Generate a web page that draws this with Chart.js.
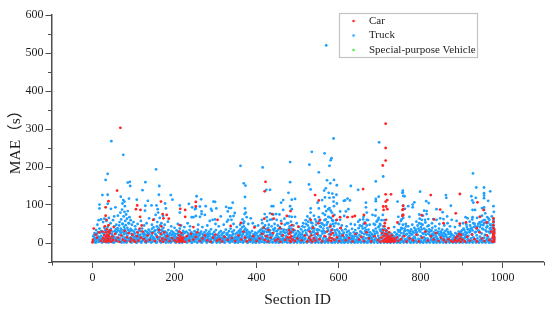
<!DOCTYPE html>
<html><head><meta charset="utf-8">
<style>html,body{margin:0;padding:0;background:#fff}#w{width:550px;height:312px;position:relative}canvas{display:block}</style>
<script src="https://cdn.jsdelivr.net/npm/chart.js@4"></script></head>
<body><div id="w"><canvas id="c" width="550" height="312"></canvas></div>
<script>
const seriesNames = ['Car','Truck','Special-purpose Vehicle'];
const yTicks = [0,100,200,300,400,500,600];
const xTicks = [0,200,400,600,800,1000];
const yMinor = [-50,50,150,250,350,450,550];
const xMinor = [-100,100,300,500,700,900,1100];
const truckTall = [[570,520],[46,268],[75,232],[37,182],[32,166],[155,194],[86,159],[91,161],[92,150],[129,160],[122,139],[163,150],[162,127],[191,126],[195,114],[24,126],[37,127],[17,101],[17,91],[37,103],[69,122],[75,113],[78,109],[89,117],[108,114],[135,111],[144,99],[156,99],[159,89],[177,104],[179,91],[129,98],[128,85],[56,94],[45,90],[73,104],[79,97],[213,99],[243,94],[213,80],[235,103],[246,68],
[361,203],[415,199],[482,213],[369,157],[373,151],[424,140],[433,140],[372,121],[482,160],[478,132],[494,116],[486,114],[465,113],[460,106],[254,123],[265,115],[295,109],[299,108],[342,106],[250,89],[276,97],[262,96],[252,91],[289,90],[302,91],[326,95],[333,92],[338,92],[330,83],[347,79],[266,83],[266,76],[313,70],[291,85],[372,91],[374,80],[371,76],[391,52],[386,65],[437,97],[441,97],[433,78],[441,75],[448,76],[456,75],[482,97],[486,89],[465,87],[486,69],[242,68],[252,71],[262,69],[274,74],[293,61],[299,62],[331,61],[339,61],[344,71],[368,52],[425,68],[413,61],[433,61],[449,61],[494,69],[498,52],
[588,275],[535,240],[566,236],[583,223],[581,218],[578,203],[529,206],[552,186],[699,265],[709,175],[691,162],[528,154],[532,141],[572,165],[589,166],[580,157],[596,152],[569,144],[565,138],[630,150],[648,140],[576,132],[585,130],[595,127],[567,120],[578,119],[588,120],[560,113],[549,106],[588,109],[596,104],[613,111],[622,117],[628,112],[616,112],[575,89],[581,85],[567,96],[589,97],[532,91],[552,91],[532,80],[604,83],[624,89],[618,83],[667,106],[667,94],[669,80],[683,74],[691,116],[691,110],[691,87],[698,122],[757,138],[757,133],[758,124],[744,109],[604,61],[614,71],[661,69],[652,61],[567,74],[575,69],[543,62],[526,56],[514,52],[648,56],[669,61],[697,61],[746,69],[754,62],
[928,183],[756,132],[761,123],[799,135],[862,126],[863,119],[936,146],[955,146],[955,131],[955,125],[970,136],[955,118],[935,119],[924,123],[926,112],[929,106],[965,111],[978,97],[979,82],[785,107],[781,101],[781,94],[770,97],[757,98],[762,90],[814,110],[820,105],[809,85],[815,84],[815,76],[839,89],[854,81],[874,98],[865,70],[927,87],[933,87],[950,92],[955,87],[955,94],[756,74],[773,69],[797,75],[803,61],[811,61],[819,63],[831,63],[839,61],[848,65],[856,63],[876,61],[888,58],[910,68],[915,65],[927,68],[945,69],[963,68],[968,61],[978,61]];
const truckMid = [[12,48],[15,60],[21,62],[26,55],[29,64],[34,58],[40,66],[44,52],[50,60],[53,70],[58,48],[62,72],[66,55],[68,80],[70,62],[72,88],[74,50],[76,70],[78,82],[80,58],[82,75],[84,64],[86,84],[88,52],[90,68],[93,60],[96,48],[100,55],[104,44],[110,50],[118,58],[126,46],[132,52],[138,65],[145,48],[150,62],[154,74],[158,55],[160,80],[164,66],[168,52],[172,72],[176,48],[184,56],[192,44],[200,40],[208,50],[216,46],[224,42],[232,52],[238,44],[258,48],[268,42],[280,46],[286,58],[300,50],[308,44],[320,48],[328,56],[336,70],[344,50],[352,42],[360,48],[366,62],[370,56],[376,68],[380,50],[396,44],[404,46],[414,52],[420,76],[426,58],[430,48],[438,62],[444,50],[452,46],[460,58],[468,64],[474,52],[480,70],[484,56],[490,46],[504,42],[512,44],[520,60],[524,70],[530,64],[536,52],[540,72],[546,56],[552,68],[558,52],[562,78],[566,60],[570,84],[574,55],[578,92],[582,66],[584,80],[586,58],[590,74],[594,60],[600,50],[608,46],[620,44],[630,50],[640,48],[652,46],[660,62],[664,54],[672,60],[676,48],[686,50],[690,72],[694,58],[698,66],[702,48],[708,74],[712,60],[736,42],[748,50],[752,58],[758,66],[764,50],[770,44],[780,48],[790,56],[798,64],[802,50],[806,72],[812,54],[820,46],[828,52],[836,44],[846,50],[858,46],[866,52],[872,44],[884,42],[896,46],[904,52],[912,48],[920,56],[926,62],[932,50],[938,66],[944,54],[950,72],[954,60],[958,78],[962,52],[966,64],[970,48],[974,70],[978,54]];
const truckLow = [[2,3,9,18],[5,5,14,26],[9,2,11,34],[13,7,17,28],[17,4,12,38],[21,6,19,31],[25,3,15,29],[29,8,22,40],[33,2,13,35],[37,5,18,42],[41,9,24,33],[45,3,14,37],[49,6,20,30],[53,2,16,44],[57,7,25,36],[61,4,12,39],[65,8,21,46],[69,3,27,38],[73,6,17,50],[77,2,23,42],[81,9,30,47],[85,5,19,40],[89,7,26,52],[93,3,15,37],[97,8,21,33],[101,4,13,30],[105,6,18,36],[109,2,11,28],[113,7,16,34],[117,3,22,31],[121,5,14,38],[125,9,19,27],[129,2,12,32],[133,6,17,29],[137,4,23,35],[141,8,13,30],[145,3,20,37],[149,5,15,41],[153,7,24,33],[157,2,18,44],[161,9,28,39],[165,4,16,46],[169,6,22,35],[173,3,14,40],[177,8,19,30],[181,5,12,27],[185,2,17,34],[189,7,11,25],[193,4,20,31],[197,6,13,28],[201,3,18,24],[205,9,15,33],[209,5,21,29],[213,2,12,38],[217,7,17,26],[221,4,23,32],[225,6,10,27],[229,3,16,30],[233,8,20,25],[237,5,13,34],[241,2,18,28],[245,7,11,24],[249,4,15,31],[253,9,21,27],[257,3,14,35],[261,6,19,26],[265,2,12,30],[269,5,17,23],[273,8,10,28],[277,3,22,33],[281,7,13,25],[285,4,18,30],[289,6,11,36],[293,2,16,24],[297,9,20,29],[301,5,12,34],[305,3,15,22],[309,7,19,27],[313,4,10,31],[317,6,14,25],[321,2,18,28],[325,8,12,35],[329,5,21,26],[333,3,16,31],[337,7,11,38],[341,4,20,29],[345,6,13,33],[349,2,17,24],[353,9,11,27],[357,5,15,32],[361,3,22,36],[365,7,18,41],[369,4,28,44],[373,8,19,38],[377,2,24,34],[381,6,14,29],[385,3,18,26],[389,9,12,31],[393,5,16,23],[397,2,20,27],[401,7,11,25],[405,4,15,30],[409,6,21,34],[413,3,17,38],[417,8,25,42],[421,5,19,46],[425,2,29,37],[429,7,14,40],[433,4,22,33],[437,9,17,44],[441,3,26,36],[445,6,13,39],[449,5,20,31],[453,2,16,35],[457,8,24,42],[461,4,18,37],[465,7,12,30],[469,3,27,48],[473,6,15,34],[477,9,23,52],[481,2,32,44],[485,5,17,38],[489,7,11,28],[493,4,20,33],[497,3,14,25],[501,8,18,31],[505,5,12,27],[509,2,21,36],[513,6,15,30],[517,9,19,42],[521,3,26,50],[525,7,33,46],[529,4,17,40],[533,2,24,54],[537,6,29,44],[541,8,20,38],[545,3,15,48],[549,5,27,36],[553,9,34,58],[557,2,19,42],[561,7,25,50],[565,4,31,46],[569,6,16,62],[573,3,39,54],[577,8,23,68],[581,5,29,48],[585,2,36,60],[589,7,20,44],[593,4,27,52],[597,6,14,35],[601,3,19,30],[605,9,12,40],[609,5,22,33],[613,2,16,27],[617,7,11,36],[621,4,18,29],[625,6,13,32],[629,3,20,25],[633,8,15,37],[637,5,11,28],[641,2,23,34],[645,7,17,26],[649,4,12,39],[653,6,19,30],[657,3,26,44],[661,9,16,50],[665,5,31,40],[669,2,22,46],[673,7,14,35],[677,4,18,28],[681,6,11,24],[685,3,16,33],[689,8,24,48],[693,5,30,56],[697,2,19,42],[701,7,35,50],[705,4,22,60],[709,6,28,44],[713,3,18,36],[717,9,25,33],[721,5,13,27],[725,2,10,20],[729,7,15,24],[733,4,9,18],[737,6,12,28],[741,3,8,22],[745,5,16,34],[749,2,20,30],[753,7,26,40],[757,4,18,48],[761,6,31,38],[765,3,22,44],[769,8,14,33],[773,5,19,27],[777,2,24,36],[781,7,12,30],[785,4,17,40],[789,6,28,35],[793,3,21,46],[797,9,33,52],[801,5,18,42],[805,2,26,48],[809,7,15,38],[813,4,22,34],[817,6,12,44],[821,3,29,36],[825,8,17,31],[829,5,23,40],[833,2,13,28],[837,7,19,34],[841,4,11,26],[845,6,24,38],[849,3,16,30],[853,9,21,35],[857,5,12,27],[861,2,18,32],[865,7,14,36],[869,4,10,24],[873,6,17,29],[877,3,8,21],[881,5,13,19],[885,2,9,26],[889,7,15,23],[893,4,11,30],[897,6,18,25],[901,3,14,33],[905,8,22,38],[909,5,16,28],[913,2,27,42],[917,7,19,36],[921,4,31,46],[925,6,23,40],[929,3,15,52],[933,9,28,44],[937,5,20,38],[941,2,33,50],[945,7,17,42],[949,4,25,56],[953,6,36,47],[957,3,21,60],[961,8,30,41],[965,5,16,54],[969,2,26,38],[973,7,34,48],[977,4,19,44],[980,3,12,30]];
const truckFill = [[4,7,21],[7,1,12],[11,9,24],[15,3,16],[19,11,27],[23,1,10],[27,6,25],[31,12,33],[35,9,28],[39,1,21],[43,11,30],[47,7,24],[51,1,12],[55,10,31],[59,14,29],[63,6,33],[67,12,30],[71,1,34],[75,10,28],[79,14,36],[83,1,25],[87,12,34],[91,10,31],[95,1,24],[99,11,19],[103,8,25],[107,1,14],[111,9,22],[115,11,20],[119,1,13],[123,7,25],[127,12,23],[131,1,20],[135,9,26],[139,11,24],[143,1,17],[147,10,28],[151,12,31],[155,1,21],[159,11,35],[163,14,33],[167,1,26],[171,10,31],[175,7,24],[179,1,14],[183,9,22],[187,11,20],[191,1,13],[195,9,23],[199,11,17],[203,1,10],[207,7,24],[211,1,13],[215,10,23],[219,1,19],[223,12,28],[227,8,14],[231,1,11],[235,10,17],[239,9,22],[243,1,15],[247,9,19],[251,12,24],[255,1,17],[259,9,22],[263,11,25],[267,1,9],[271,12,19],[275,7,14],[279,1,18],[283,10,21],[287,8,24],[291,1,13],[295,12,19],[299,7,15],[303,1,9],[307,11,18],[311,1,14],[315,9,21],[319,7,11],[323,1,15],[327,10,23],[331,8,13],[335,1,20],[339,9,15],[343,12,24],[347,1,9],[351,7,14],[355,1,18],[359,11,26],[363,13,30],[367,1,24],[371,12,34],[375,14,28],[379,1,17],[383,10,22],[387,7,13],[391,1,19],[395,9,14],[399,1,11],[403,8,18],[407,1,12],[411,10,27],[415,13,32],[419,1,30],[423,12,36],[427,10,20],[431,1,29],[435,12,25],[439,1,21],[443,10,33],[447,1,14],[451,8,24],[455,1,12],[459,10,29],[463,1,22],[467,9,35],[471,11,19],[475,1,28],[479,12,38],[483,1,26],[487,10,31],[491,1,16],[495,9,23],[499,1,11],[503,7,21],[507,1,15],[511,10,24],[515,1,19],[519,12,33],[523,1,21],[527,10,36],[531,13,29],[535,1,38],[539,12,31],[543,1,25],[547,11,34],[551,1,20],[555,14,44],[559,1,31],[563,12,38],[567,1,27],[571,10,48],[575,1,33],[579,14,42],[583,1,26],[587,11,50],[591,1,33],[595,10,22],[599,1,14],[603,9,25],[607,1,18],[611,8,24],[615,1,12],[619,10,21],[623,1,15],[627,9,24],[631,1,12],[635,10,19],[639,1,17],[643,8,24],[647,1,12],[651,9,21],[655,1,30],[659,11,38],[663,1,24],[667,12,34],[671,1,28],[675,10,21],[679,1,14],[683,8,21],[687,1,30],[691,12,38],[695,1,26],[699,13,44],[703,1,31],[707,12,36],[711,1,24],[715,10,20],[719,1,14],[723,7,17],[727,1,12],[731,6,21],[735,1,17],[739,7,14],[743,1,24],[747,9,30],[751,1,34],[755,12,38],[759,1,25],[763,10,33],[767,1,24],[771,9,16],[775,1,31],[779,10,22],[783,1,26],[787,12,33],[791,1,28],[795,11,38],[799,1,30],[803,12,36],[807,1,24],[811,10,28],[815,1,31],[819,8,24],[823,1,21],[827,12,33],[831,1,20],[835,9,25],[839,1,16],[843,11,30],[847,1,21],[851,10,26],[855,1,18],[859,8,24],[863,1,21],[867,9,29],[871,1,15],[875,7,24],[879,1,11],[883,7,16],[887,1,14],[891,9,19],[895,1,22],[899,10,30],[903,1,24],[907,12,34],[911,1,21],[915,10,36],[919,1,28],[923,12,38],[927,1,33],[931,10,42],[935,1,29],[939,12,44],[943,1,31],[947,10,48],[951,1,38],[955,14,52],[959,1,33],[963,12,44],[967,1,30],[971,10,40],[975,1,28],[979,14,38]];
const carTall = [[68,303],[60,138],[39,110],[32,94],[109,99],[106,89],[117,87],[167,109],[171,76],[181,74],[214,90],[226,87],[226,69],[213,47],[32,72],[34,61],[39,47],[116,69],[148,61],[173,65],[186,64],[422,161],[420,136],[252,108],[252,96],[305,61],[246,42],[362,53],[395,41],[419,64],[438,76],[442,64],[474,71],[483,84],[461,51],[457,39],[490,35],[502,43],[486,47],[337,45],[429,34],[715,314],[715,250],[715,217],[708,204],[660,142],[543,126],[552,112],[715,128],[728,128],[719,113],[715,109],[709,96],[716,96],[710,87],[719,89],[758,98],[758,89],[532,61],[604,68],[622,68],[634,69],[640,71],[662,74],[744,54],[758,74],[716,61],[713,52],[587,71],[596,61],[555,61],[605,39],[551,52],[665,52],[722,39],[825,126],[896,129],[939,107],[756,87],[756,71],[803,73],[848,88],[833,62],[856,52],[886,78],[896,51],[911,54],[954,87],[961,54],[945,69],[978,65],[978,56],[978,47],[978,39],[937,39],[899,21]];
const carLow = [[0,2],[1,8],[3,38],[8,22],[11,14],[16,28],[20,6],[24,30],[26,12],[28,4],[29,20],[30,44],[31,9],[32,28],[33,16],[34,3],[35,36],[36,22],[37,7],[38,13],[39,30],[40,18],[41,5],[42,26],[43,11],[44,33],[46,3],[48,17],[50,8],[52,42],[55,24],[58,6],[62,14],[66,3],[70,20],[74,9],[78,32],[80,5],[84,15],[88,26],[92,4],[94,12],[97,22],[100,7],[104,3],[108,18],[110,28],[112,6],[115,38],[118,14],[120,46],[122,30],[125,10],[130,4],[135,20],[140,8],[146,26],[152,5],[158,16],[163,34],[165,6],[166,24],[168,44],[170,12],[172,3],[175,28],[178,9],[182,18],[188,5],[194,13],[200,7],[205,3],[208,12],[210,6],[211,20],[212,30],[213,3],[214,9],[215,16],[216,5],[217,26],[218,11],[219,4],[220,8],[222,14],[226,3],[230,18],[236,6],[240,24],[246,9],[252,16],[256,28],[262,5],[268,12],[274,20],[280,7],[288,3],[294,14],[300,22],[304,6],[310,10],[316,4],[322,16],[330,8],[340,13],[348,5],[356,20],[363,9],[368,30],[372,14],[376,4],[384,8],[392,18],[400,5],[408,12],[414,24],[418,40],[420,8],[424,18],[428,4],[434,14],[440,26],[446,6],[452,10],[458,3],[464,20],[470,8],[476,15],[479,34],[480,24],[481,6],[482,14],[483,28],[484,3],[485,18],[488,9],[494,5],[500,12],[510,7],[518,20],[524,4],[528,14],[530,30],[532,8],[534,20],[536,3],[538,40],[540,12],[544,6],[548,24],[554,10],[560,4],[566,18],[572,30],[575,7],[578,14],[580,44],[581,22],[582,5],[583,34],[584,12],[586,26],[590,8],[596,15],[602,5],[610,20],[618,7],[626,13],[634,4],[642,24],[650,9],[656,16],[662,5],[668,28],[674,12],[680,4],[688,18],[696,8],[702,3],[704,14],[706,26],[708,6],[709,34],[710,18],[711,3],[712,44],[713,10],[714,24],[715,5],[716,32],[717,14],[718,3],[719,22],[720,8],[721,18],[722,4],[723,12],[724,28],[725,6],[726,15],[728,3],[729,10],[730,20],[732,5],[734,12],[736,3],[738,8],[742,14],[746,5],[752,10],[760,18],[766,4],[774,12],[782,7],[790,22],[796,4],[804,14],[812,30],[818,6],[826,18],[832,9],[838,26],[844,5],[850,14],[856,8],[862,3],[868,10],[874,5],[880,3],[884,8],[886,14],[888,4],[890,18],[892,7],[894,24],[896,12],[898,3],[902,9],[908,4],[914,16],[920,6],[926,22],[932,10],[938,4],[944,28],[950,12],[956,5],[962,20],[968,8],[972,30],[975,4],[976,14],[977,24],[978,6],[978,18],[978,30],[979,3],[979,11],[979,22],[980,8],[980,16],[980,26],[980,35]];
const specialPts = [[40,4],[380,5],[700,3]];

const toXY = p => ({x:p[0], y:p[1]});
const expand = r => r.slice(1).map(v => ({x:r[0], y:v}));
const truckData = truckTall.concat(truckMid).map(toXY)
  .concat(truckLow.flatMap(expand), truckFill.flatMap(expand));
const carData = carTall.concat(carLow).map(toXY);
const specialData = specialPts.map(toXY);

const COLORS = ['#ff2424','#1ea0ff','#55e855'];
const serif = '"Liberation Serif","Noto Sans CJK SC",serif';
const AXIS = '#4d4d4d', INK = '#1c1c1c';

function legendDot(color){
  const c = document.createElement('canvas'); c.width = 4; c.height = 4;
  const g = c.getContext('2d'); g.fillStyle = color;
  g.beginPath(); g.arc(2,2,1.3,0,Math.PI*2); g.fill();
  return c;
}

const frame = {
  id:'frame',
  afterLayout(chart){
    const l = chart.legend;
    l.left = 340; l.top = 12; l.right = 478; l.bottom = 90;
  },
  afterDraw(chart){
    const g = chart.ctx, xs = chart.scales.x, ys = chart.scales.y;
    g.save();
    g.strokeStyle = '#c4c4c4'; g.lineWidth = 1.2;
    g.strokeRect(339.5,13.5,138,44);
    g.strokeStyle = AXIS; g.lineWidth = 1;
    const bx = xs.left, by = ys.bottom;
    yMinor.forEach(v=>{const p=Math.round(ys.getPixelForValue(v))+.5; g.beginPath(); g.moveTo(bx-3.5,p); g.lineTo(bx,p); g.stroke();});
    xMinor.forEach(v=>{const p=Math.round(xs.getPixelForValue(v))+.5; g.beginPath(); g.moveTo(p,by); g.lineTo(p,by+3.5); g.stroke();});
    g.restore();
  }
};

const mk = (i,d) => ({label:seriesNames[i], data:d, showLine:false, pointRadius:1.4, pointHoverRadius:1.4,
  pointBackgroundColor:COLORS[i], backgroundColor:COLORS[i], borderColor:COLORS[i], pointBorderWidth:0});

new Chart(document.getElementById('c'),{
  type:'scatter',
  data:{datasets:[mk(0,carData),mk(1,truckData),mk(2,specialData)]},
  plugins:[frame],
  options:{
    responsive:false, animation:false, devicePixelRatio:1,
    layout:{padding:{top:15,right:6.5,left:0,bottom:0}},
    plugins:{
      tooltip:{enabled:false},
      legend:{position:'chartArea',align:'start',
        labels:{font:{family:serif,size:11},color:INK,padding:3.5,usePointStyle:true,boxHeight:4,pointStyleWidth:20,
          generateLabels(chart){
            return seriesNames.map((t,i)=>({text:t,fillStyle:COLORS[i],strokeStyle:COLORS[i],lineWidth:0,
              pointStyle:legendDot(COLORS[i]),datasetIndex:i,hidden:false,fontColor:INK}));
          }}}
    },
    scales:{
      x:{type:'linear',min:-100,max:1100,
        afterFit(s){s.height=50;},
        afterBuildTicks(s){s.ticks=xTicks.map(v=>({value:v}));},
        border:{color:AXIS,width:1.5},
        grid:{drawOnChartArea:false,drawTicks:true,tickLength:6,tickColor:AXIS,tickWidth:1},
        ticks:{color:INK,font:{family:serif,size:12},padding:3,maxRotation:0,autoSkip:false,callback:v=>String(v)},
        title:{display:true,text:'Section ID',color:INK,font:{family:serif,size:15.5},padding:{top:0,bottom:3}}
      },
      y:{type:'linear',min:-50,max:600,
        afterFit(s){s.width=51.5;},
        afterBuildTicks(s){s.ticks=yTicks.map(v=>({value:v}));},
        border:{color:AXIS,width:1.5},
        grid:{drawOnChartArea:false,drawTicks:true,tickLength:6,tickColor:AXIS,tickWidth:1},
        ticks:{color:INK,font:{family:serif,size:12},padding:2,autoSkip:false,callback:v=>String(v)},
        title:{display:true,text:'MAE（s）',color:INK,font:{family:serif,size:15.5},padding:{top:7,bottom:0}}
      }
    }
  }
});
</script></body></html>
